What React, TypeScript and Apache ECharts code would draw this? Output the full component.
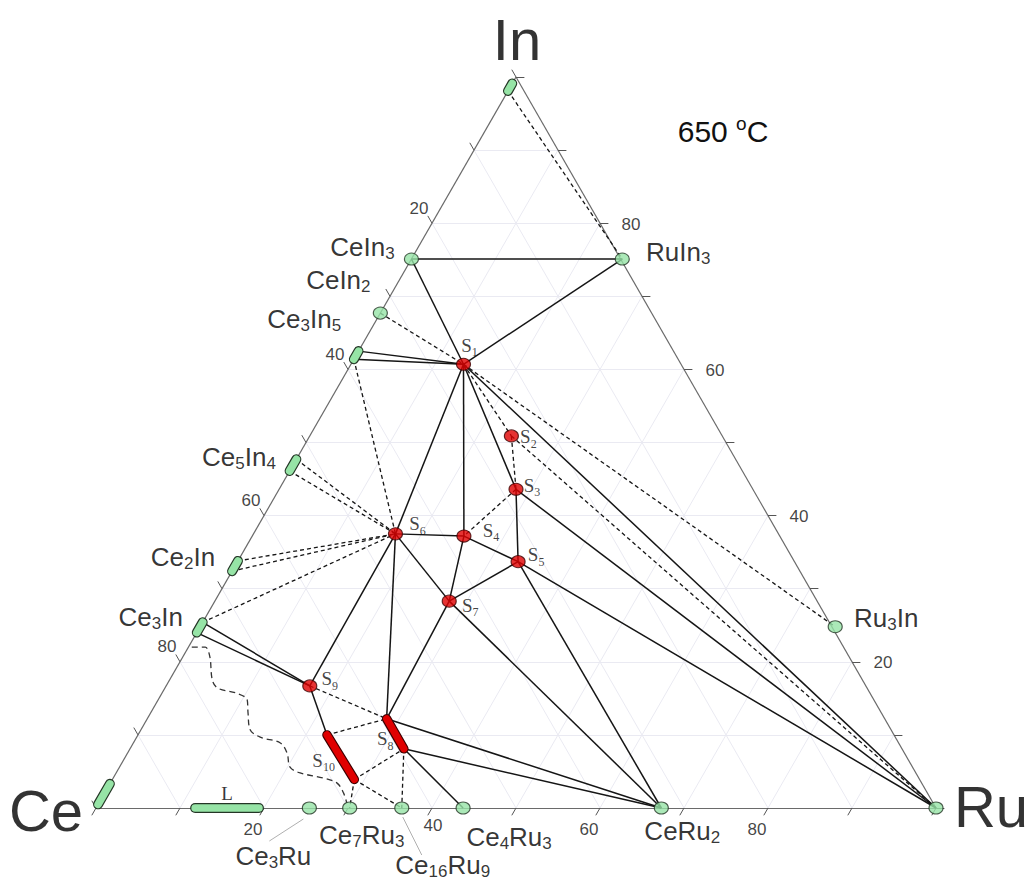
import { useEffect, useRef } from 'react';
import * as echarts from 'echarts';

const SANS = '"Liberation Sans", Arial, Helvetica, sans-serif';
const SERIF = '"Liberation Serif", "Times New Roman", serif';
const R3 = Math.sqrt(3) / 2;

// ---------------- data (compositions in at.% Ru, at.% In; Ce = rest) ----------------
const tickValues = [0, 10, 20, 30, 40, 50, 60, 70, 80, 90, 100];
const tickLabelValues = [20, 40, 60, 80];
const gridValues = [10, 20, 30, 40, 50, 60, 70, 80, 90];

const vertexNames = ['Ce', 'Ru', 'In'];
const vertexRu = [0, 100, 0];
const vertexIn = [0, 0, 100];

// single-phase binary compounds (green dots)
const compoundNames = ['CeIn3', 'CeIn2', 'RuIn3', 'Ru3In', 'Ce3Ru', 'Ce7Ru3', 'Ce16Ru9', 'Ce4Ru3', 'CeRu2', 'Ru'];
const compoundRu = [0, 0, 25.1, 75.6, 25.4, 30.2, 36.4, 43.7, 67.3, 100];
const compoundIn = [75.1, 67.7, 75.1, 24.8, 0, 0, 0, 0, 0, 0];

// binary homogeneity ranges (green bars): two ends
const rangeNames = ['(In)', 'Ce3In5', 'Ce5In4', 'Ce2In', 'Ce3In', '(Ce)', 'L'];
const rangeRuLo = [0, 0, 0, 0, 0, 0, 11.8];
const rangeInLo = [98.1, 61.4, 46.1, 32.4, 24.0, 0.5, 0];
const rangeRuHi = [0, 0, 0, 0, 0, 0, 19.4];
const rangeInHi = [99.1, 62.5, 47.7, 33.8, 25.4, 3.3, 0];

// ternary phases (red dots)
const ternaryNames = ['S1', 'S2', 'S3', 'S4', 'S5', 'S6', 'S7', 'S9'];
const ternaryRu = [13.4, 24.0, 28.2, 25.2, 33.4, 16.9, 27.9, 17.1];
const ternaryIn = [60.7, 50.9, 43.6, 37.2, 33.7, 37.5, 28.3, 16.7];

// ternary phases with homogeneity range (red bars): top / bottom ends
const barNames = ['S8', 'S10'];
const barRuTop = [28.5, 22.5];
const barInTop = [12.2, 10.0];
const barRuBot = [32.6, 28.8];
const barInBot = [8.1, 3.9];

// liquid boundary (dashed curve)
const liquidRu = [0.4, 2.0, 3.2, 5.1, 6.3, 8.9, 10.6, 11.6, 13.0, 14.7, 17.5, 19.0, 20.3, 21.9, 25.0, 27.0, 28.4, 29.5];
const liquidIn = [22.0, 22.0, 20.7, 17.5, 16.4, 15.7, 14.8, 13.0, 10.7, 9.7, 8.9, 7.5, 5.6, 4.8, 4.1, 3.4, 2.1, 0.7];

// tie lines
const solidTies: [string, string][] = [
  ['CeIn3', 'RuIn3'], ['RuIn3', 'S1'], ['CeIn3', 'S1'], ['Ce3In5_hi', 'S1'], ['Ce3In5_lo', 'S1'],
  ['S1', 'S6'], ['S1', 'S4'], ['S1', 'S3'], ['S1', 'Ru'], ['S3', 'S5'], ['S3', 'Ru'],
  ['S4', 'S6'], ['S4', 'S5'], ['S4', 'S7'], ['S5', 'S7'], ['S5', 'Ru'], ['S5', 'CeRu2'],
  ['S7', 'CeRu2'], ['S7', 'S8t'], ['S6', 'S8t'], ['S6', 'S7'], ['S6', 'S9'],
  ['S8t', 'CeRu2'], ['S8b', 'CeRu2'], ['S8b', 'Ce4Ru3'],
  ['Ce3In_hi', 'S9'], ['Ce3In_lo', 'S9'], ['S9', 'S10t'],
];
const dashedTies: [string, string][] = [
  ['(In)_lo', 'RuIn3'], ['CeIn2', 'S1'], ['S1', 'S2'], ['S1', 'Ru3In'], ['S2', 'S3'], ['S2', 'Ru'], ['S3', 'S4'],
  ['Ce3In5_lo', 'S6'], ['Ce5In4_hi', 'S6'], ['Ce5In4_lo', 'S6'], ['Ce2In_hi', 'S6'], ['Ce2In_lo', 'S6'], ['Ce3In_hi', 'S6'],
  ['S9', 'S8t'], ['S10t', 'S8t'], ['S10b', 'S8b'], ['S10b', 'Ce7Ru3'], ['S10b', 'Ce16Ru9'], ['S8b', 'Ce16Ru9'],
];

// ---------------- layout / style ----------------
const W = 1027, H = 883;
const CE_PX = 96, BASE_PY = 808;
const UX = 8.4; // px per x unit
const UY = 731 / (50 * Math.sqrt(3)); // px per y unit
const TICK = 1.0;

const compoundLabelOffset: Record<string, number[]> = {
  CeIn3: [-49, -12], CeIn2: [-42, -33], RuIn3: [56, -7], Ru3In: [51, -9],
  Ce3Ru: [-36, 48], Ce7Ru3: [12, 27], Ce16Ru9: [41, 57], Ce4Ru3: [46, 29], CeRu2: [21, 23],
};
const rangeLabelOffset: Record<string, number[]> = {
  Ce3In5: [-52, -36], Ce5In4: [-54, -8], Ce2In: [-52, -9], Ce3In: [-49, -10], L: [0, -15],
};
const ternaryLabelOffset: Record<string, number[]> = {
  S1: [6, -19], S2: [17, 1], S3: [16, -4], S4: [27, -6], S5: [18, -7], S6: [22, -10], S7: [21, 4], S9: [20, -7],
  S8: [-10, 5], S10: [-17, 3],
};
const vertexLabelOffset: Record<string, number[]> = { Ce: [-50, 2], Ru: [55, -2], In: [1, -38] };
const leaderLines = [
  { name: 'Ce3Ru', from: [-6, 11], to: [-40, 33] },
  { name: 'Ce16Ru9', from: [1, 9], to: [20, 47] },
];

const GREEN = '#96e4a6', GREEN_EDGE = '#243626';
const RED = '#e00000', RED_EDGE = '#3d0000';
const INK = '#151515';
const TEXT = '#000';

const toXY = (ru: number, inn: number) => [ru + inn / 2, inn * R3];

const nodes: Record<string, number[]> = {};
compoundNames.forEach((n, i) => (nodes[n] = toXY(compoundRu[i], compoundIn[i])));
rangeNames.forEach((n, i) => {
  nodes[n + '_lo'] = toXY(rangeRuLo[i], rangeInLo[i]);
  nodes[n + '_hi'] = toXY(rangeRuHi[i], rangeInHi[i]);
});
ternaryNames.forEach((n, i) => (nodes[n] = toXY(ternaryRu[i], ternaryIn[i])));
barNames.forEach((n, i) => {
  nodes[n + 't'] = toXY(barRuTop[i], barInTop[i]);
  nodes[n + 'b'] = toXY(barRuBot[i], barInBot[i]);
});

const chem = (t: string) => t.replace(/(\d+)|(\D+)/g, (_m, d, a) => (d ? `{s|${d}}` : `{m|${a}}`));

const chemRich = {
  m: { fontSize: 26, fontFamily: SANS, color: TEXT, lineHeight: 30 },
  s: { fontSize: 17, fontFamily: SANS, color: TEXT, lineHeight: 12, verticalAlign: 'bottom' },
  L: { fontSize: 19, fontFamily: SERIF, color: TEXT, lineHeight: 22 },
};
const sRich = {
  S: { fontSize: 19, fontFamily: SERIF, color: '#111', lineHeight: 26 },
  n: { fontSize: 12, fontFamily: SERIF, color: '#111', lineHeight: 10, verticalAlign: 'bottom' },
};

function buildOption() {
  const seg = (a: number[], b: number[]) => ({ coords: [a, b] });

  const gridSegs: any[] = [];
  gridValues.forEach((v) => {
    gridSegs.push(seg(toXY(0, v), toXY(100 - v, v))); // const In
    gridSegs.push(seg(toXY(v, 0), toXY(v, 100 - v))); // const Ru
    gridSegs.push(seg(toXY(100 - v, 0), toXY(0, 100 - v))); // const Ce
  });
  const edges = [
    seg(toXY(0, 0), toXY(100, 0)),
    seg(toXY(100, 0), toXY(0, 100)),
    seg(toXY(0, 100), toXY(0, 0)),
  ];
  const tickSegs: any[] = [];
  tickValues.forEach((v) => {
    const b = toXY(v, 0);
    tickSegs.push(seg(b, [b[0] - TICK * 0.5, -TICK * R3]));
    const r = toXY(100 - v, v);
    tickSegs.push(seg(r, [r[0] + TICK, r[1]]));
    const l = toXY(0, 100 - v);
    tickSegs.push(seg(l, [l[0] - TICK * 0.5, l[1] + TICK * R3]));
  });

  const tickLabelData: any[] = [];
  tickLabelValues.forEach((v) => {
    tickLabelData.push({ name: String(v), value: toXY(v, 0), label: { offset: v === 40 ? [1, 17] : [-11, 21] } });
    tickLabelData.push({ name: String(v), value: toXY(0, 100 - v), label: { offset: [-13, -15] } });
    tickLabelData.push({ name: String(v), value: toXY(100 - v, v), label: { offset: [31, 1] } });
  });

  const rangeSegs = rangeNames.map((n) => seg(nodes[n + '_lo'], nodes[n + '_hi']));
  const barSegs = barNames.map((n) => seg(nodes[n + 't'], nodes[n + 'b']));

  const rangeLabelData = rangeNames
    .filter((n) => rangeLabelOffset[n])
    .map((n) => {
      const a = nodes[n + '_lo'], b = nodes[n + '_hi'];
      return { name: n, value: [(a[0] + b[0]) / 2, (a[1] + b[1]) / 2], label: { offset: rangeLabelOffset[n] } };
    });
  const barLabelData = barNames.map((n) => {
    const a = nodes[n + 't'], b = nodes[n + 'b'];
    return { name: n, value: [(a[0] + b[0]) / 2, (a[1] + b[1]) / 2], label: { offset: ternaryLabelOffset[n] } };
  });

  const hidden = { type: 'value', show: false, splitLine: { show: false } };

  return {
    animation: false,
    backgroundColor: '#ffffff',
    grid: { left: 0, right: 0, top: 0, bottom: 0, containLabel: false },
    xAxis: { ...hidden, min: -CE_PX / UX, max: (W - CE_PX) / UX },
    yAxis: { ...hidden, min: -(H - BASE_PY) / UY, max: BASE_PY / UY },
    series: [
      { type: 'lines', coordinateSystem: 'cartesian2d', silent: true, z: 1,
        lineStyle: { color: '#eaeaf2', width: 1, opacity: 1, curveness: 0 }, data: gridSegs },
      { type: 'lines', coordinateSystem: 'cartesian2d', silent: true, z: 2,
        lineStyle: { color: '#6a6a6a', width: 1.2, opacity: 1, curveness: 0 }, data: edges },
      { type: 'lines', coordinateSystem: 'cartesian2d', silent: true, z: 2,
        lineStyle: { color: '#555', width: 1, opacity: 1, curveness: 0 }, data: tickSegs },
      { type: 'line', silent: true, z: 3, symbol: 'none', smooth: 0.35,
        lineStyle: { color: '#333', width: 1.3, type: [6, 4] },
        data: liquidRu.map((r, i) => toXY(r, liquidIn[i])) },
      { type: 'lines', coordinateSystem: 'cartesian2d', silent: true, z: 3,
        lineStyle: { color: INK, width: 1.5, opacity: 1, curveness: 0 },
        data: solidTies.map(([a, b]) => seg(nodes[a], nodes[b])) },
      { type: 'lines', coordinateSystem: 'cartesian2d', silent: true, z: 3,
        lineStyle: { color: INK, width: 1.3, opacity: 1, curveness: 0, type: [4, 3] },
        data: dashedTies.map(([a, b]) => seg(nodes[a], nodes[b])) },
      { type: 'lines', coordinateSystem: 'cartesian2d', silent: true, z: 4,
        lineStyle: { color: GREEN_EDGE, width: 10, opacity: 1, cap: 'round', curveness: 0 }, data: rangeSegs },
      { type: 'lines', coordinateSystem: 'cartesian2d', silent: true, z: 5,
        lineStyle: { color: GREEN, width: 7.6, opacity: 1, cap: 'round', curveness: 0 }, data: rangeSegs },
      { type: 'lines', coordinateSystem: 'cartesian2d', silent: true, z: 4,
        lineStyle: { color: RED_EDGE, width: 9.5, opacity: 1, cap: 'round', curveness: 0 }, data: barSegs },
      { type: 'lines', coordinateSystem: 'cartesian2d', silent: true, z: 5,
        lineStyle: { color: RED, width: 7.2, opacity: 1, cap: 'round', curveness: 0 }, data: barSegs },
      { type: 'scatter', silent: true, z: 6, symbol: 'circle', symbolSize: [14, 12],
        itemStyle: { color: GREEN, borderColor: GREEN_EDGE, borderWidth: 1.1 },
        label: { show: true, position: 'inside', color: TEXT, textBorderWidth: 0, rich: chemRich,
          formatter: (p: any) => (compoundLabelOffset[p.name] ? chem(p.name) : '') },
        data: compoundNames.map((n, i) => ({ name: n, value: toXY(compoundRu[i], compoundIn[i]),
          label: { offset: compoundLabelOffset[n] || [0, 0] } })) },
      { type: 'scatter', silent: true, z: 6, symbol: 'circle', symbolSize: [14, 12],
        itemStyle: { color: RED, borderColor: RED_EDGE, borderWidth: 1.1 },
        label: { show: true, position: 'inside', color: '#111', textBorderWidth: 0, rich: sRich,
          formatter: (p: any) => `{S|S}{n|${p.name.slice(1)}}` },
        data: ternaryNames.map((n, i) => ({ name: n, value: toXY(ternaryRu[i], ternaryIn[i]),
          label: { offset: ternaryLabelOffset[n] } })) },
      { type: 'scatter', silent: true, z: 7, symbolSize: 0, itemStyle: { color: 'transparent' },
        label: { show: true, position: 'inside', color: '#111', textBorderWidth: 0, rich: sRich,
          formatter: (p: any) => `{S|S}{n|${p.name.slice(1)}}` },
        data: barLabelData },
      { type: 'scatter', silent: true, z: 7, symbolSize: 0, itemStyle: { color: 'transparent' },
        label: { show: true, position: 'inside', color: TEXT, textBorderWidth: 0, rich: chemRich,
          formatter: (p: any) => (p.name === 'L' ? '{L|L}' : chem(p.name)) },
        data: rangeLabelData },
      { type: 'scatter', silent: true, z: 7, symbolSize: 0, itemStyle: { color: 'transparent' },
        label: { show: true, position: 'inside', color: '#111', textBorderWidth: 0,
          fontSize: 17, fontFamily: SANS, formatter: (p: any) => p.name },
        data: tickLabelData },
      { type: 'scatter', silent: true, z: 7, symbolSize: 0, itemStyle: { color: 'transparent' },
        label: { show: true, position: 'inside', color: '#000', textBorderWidth: 0,
          fontSize: 58, fontFamily: SANS, formatter: (p: any) => p.name },
        data: vertexNames.map((n, i) => ({ name: n, value: toXY(vertexRu[i], vertexIn[i]),
          label: { offset: vertexLabelOffset[n] } })) },
    ],
  };
}

export default function App() {
  const ref = useRef<HTMLDivElement>(null);
  useEffect(() => {
    if (!ref.current) return;
    const chart = echarts.init(ref.current, null, { renderer: 'svg' });
    chart.setOption(buildOption() as any);
    const leaders = leaderLines.map((l) => {
      const p = chart.convertToPixel({ gridIndex: 0 }, nodes[l.name]) as number[];
      return {
        type: 'line', silent: true, z: 10,
        shape: { x1: p[0] + l.from[0], y1: p[1] + l.from[1], x2: p[0] + l.to[0], y2: p[1] + l.to[1] },
        style: { stroke: '#b0b0b0', lineWidth: 1 },
      };
    });
    chart.setOption({
      graphic: [
        {
          type: 'text', x: 723, y: 131, silent: true, z: 10,
          style: {
            text: '{a|650 }{o|o}{a|C}',
            align: 'center', verticalAlign: 'middle',
            textAlign: 'center', textVerticalAlign: 'middle',
            rich: {
              a: { fontSize: 30, fontFamily: SANS, fill: '#111', lineHeight: 34 },
              o: { fontSize: 19, fontFamily: SANS, fill: '#111', lineHeight: 16, verticalAlign: 'top' },
            },
          },
        },
        ...leaders,
      ],
    } as any);
    return () => chart.dispose();
  }, []);
  return <div ref={ref} style={{ position: 'absolute', left: 0, top: 0, width: W, height: H, background: '#fff' }} />;
}
